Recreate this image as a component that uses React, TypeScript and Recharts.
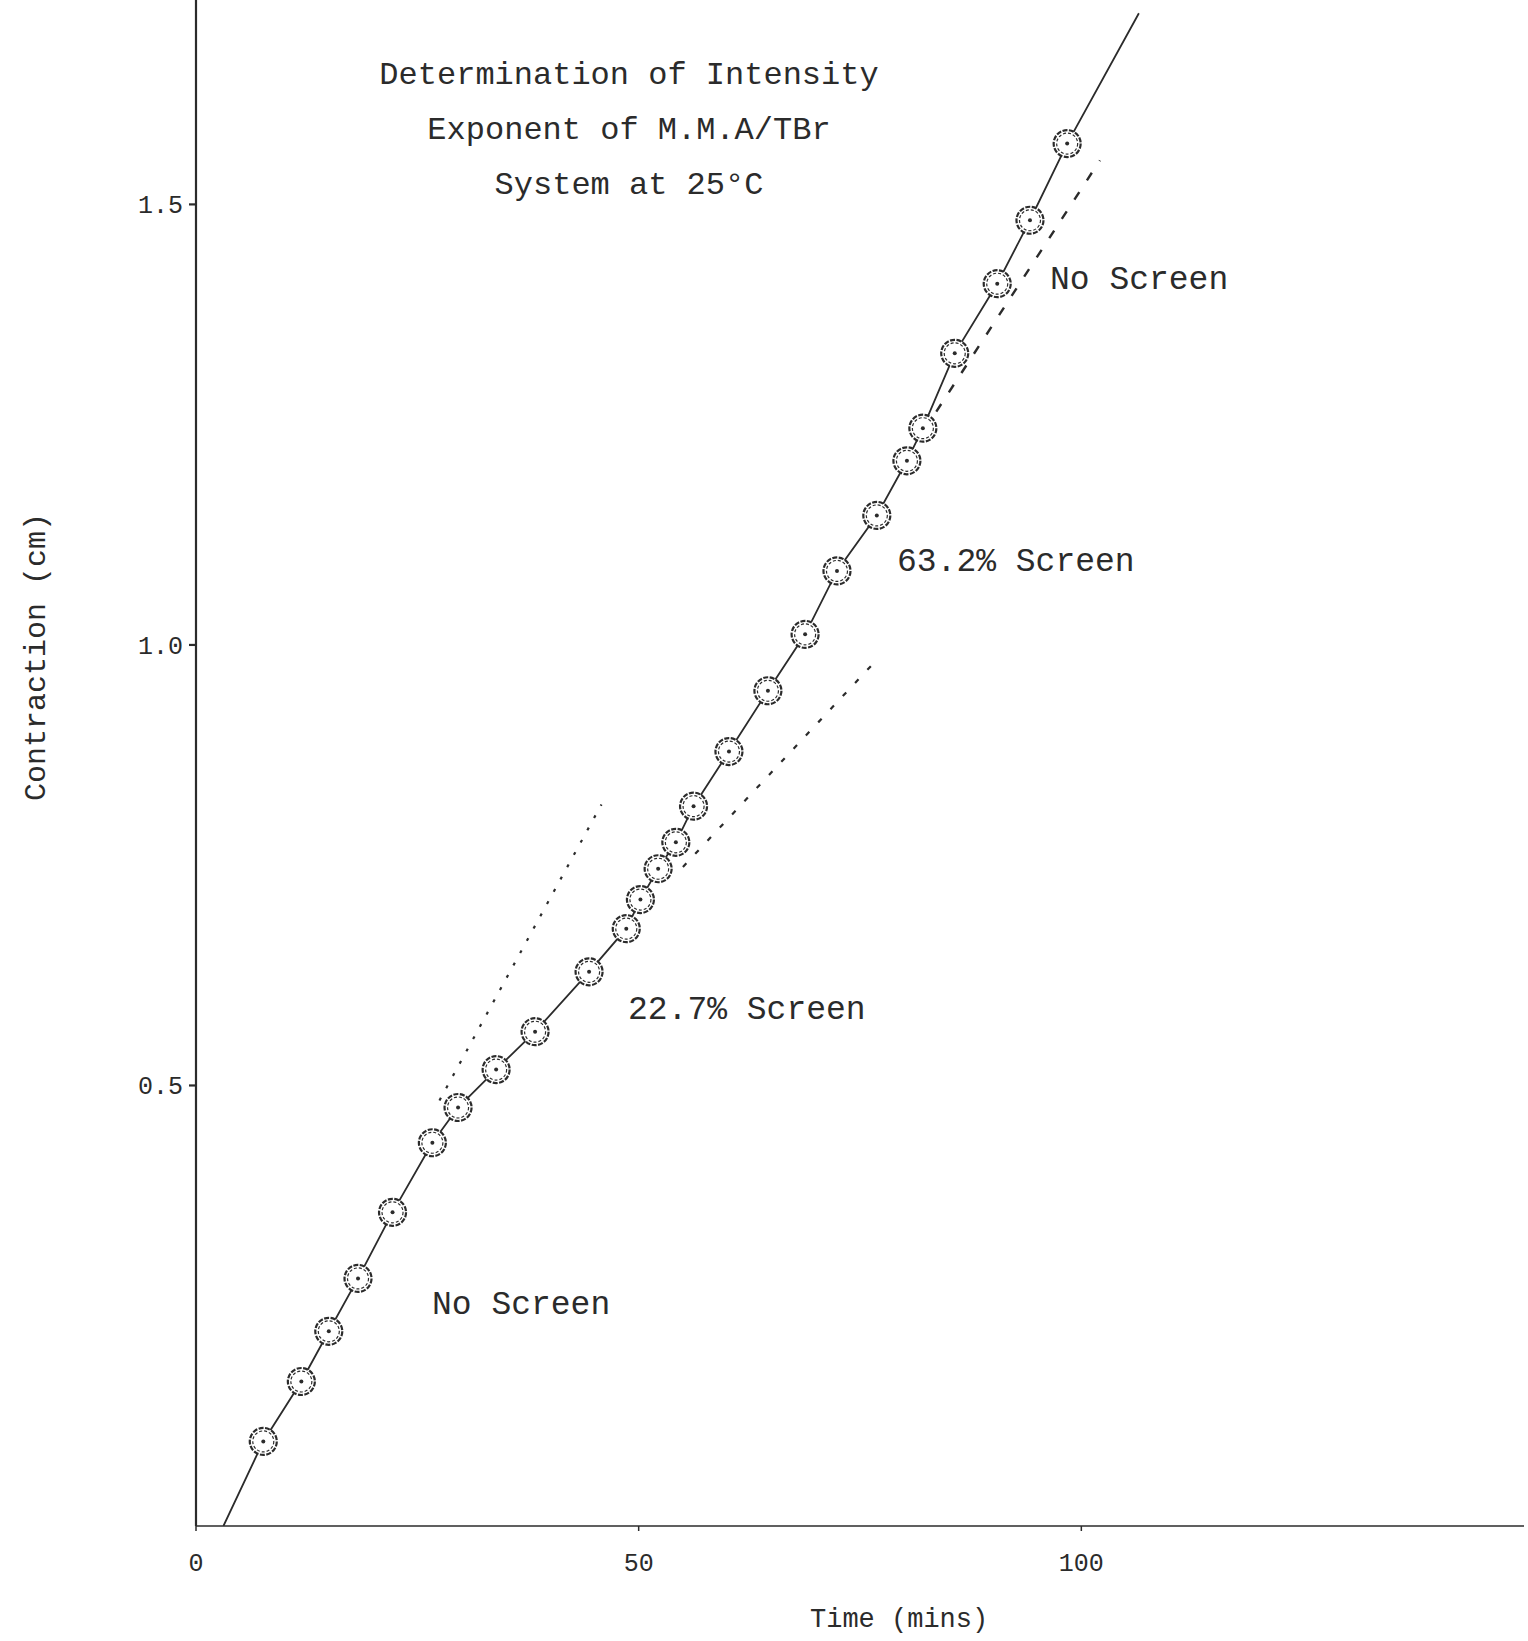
import React from 'react';
import { ComposedChart, Line, Scatter, XAxis, YAxis } from 'recharts';

// measured points (time in mins, contraction in cm)
const times = [7.6, 11.9, 15.0, 18.3, 22.2, 26.7, 29.6, 33.9, 38.3, 44.4, 48.6, 50.2, 52.2, 54.2, 56.2, 60.2, 64.6, 68.8, 72.4, 76.9, 80.3, 82.1, 85.7, 90.5, 94.2, 98.4];
const contraction = [0.096, 0.164, 0.221, 0.281, 0.356, 0.435, 0.475, 0.518, 0.561, 0.629, 0.678, 0.711, 0.746, 0.776, 0.817, 0.879, 0.948, 1.012, 1.084, 1.147, 1.209, 1.246, 1.331, 1.41, 1.482, 1.569];

// drawn line ends
const fitStart = { t: 3.1, c: 0 };
const fitEnd = { t: 106.5, c: 1.717 };

// extrapolated (dashed) lines
const noScreenLowT = [27.5, 45.8];
const noScreenLowC = [0.483, 0.819];
const screen227T = [55.0, 76.6];
const screen227C = [0.748, 0.98];
const screen632T = [82.2, 102.1];
const screen632C = [1.243, 1.55];

const xTicks = [0, 50, 100];
const yTicks = [0.5, 1.0, 1.5];

const points = times.map((t, i) => ({ t, c: contraction[i] }));
const fitLine = [fitStart, ...points, fitEnd];
const toLine = (ts, cs) => ts.map((t, i) => ({ t, c: cs[i] }));

const INK = '#2b2b2b';
const FONT = '"Liberation Mono", "DejaVu Sans Mono", monospace';

const Ring = (props) => {
    const { cx, cy } = props;
    if (cx == null || cy == null) return null;
    return (
        <g>
            <circle cx={cx} cy={cy} r={13.5} fill="#fff" stroke={INK} strokeWidth={2.2} strokeDasharray="5 1.5" />
            <circle cx={cx} cy={cy} r={10.5} fill="none" stroke={INK} strokeWidth={1.2} strokeDasharray="3 2" />
            <circle cx={cx} cy={cy} r={2} fill={INK} />
        </g>
    );
};

const note = (text, left, top, size = 33) => (
    <div style={{ position: 'absolute', left, top, fontFamily: FONT, fontSize: size, color: INK, whiteSpace: 'pre', lineHeight: 1 }}>
        {text}
    </div>
);

export default function App() {
    return (
        <div style={{ position: 'absolute', left: 0, top: 0, width: 1528, height: 1641, background: '#fff' }}>
            <ComposedChart width={1528} height={1641} margin={{ top: 0, right: 4, left: 116, bottom: 55 }}>
                <XAxis
                    type="number"
                    dataKey="t"
                    domain={[0, 150]}
                    ticks={xTicks}
                    allowDataOverflow
                    height={60}
                    tickSize={5}
                    tickMargin={22}
                    stroke={INK}
                    strokeWidth={1.5}
                    tick={{ fontFamily: FONT, fontSize: 25, fill: INK }}
                />
                <YAxis
                    type="number"
                    dataKey="c"
                    domain={[0, 1.732]}
                    ticks={yTicks}
                    allowDataOverflow
                    width={80}
                    tickSize={7}
                    tickMargin={6}
                    stroke={INK}
                    strokeWidth={2.2}
                    tickFormatter={(v) => v.toFixed(1)}
                    tick={{ fontFamily: FONT, fontSize: 25, fill: INK }}
                />
                <Line data={toLine(noScreenLowT, noScreenLowC)} dataKey="c" stroke={INK} strokeWidth={2.2} strokeDasharray="3 11" dot={false} isAnimationActive={false} />
                <Line data={toLine(screen227T, screen227C)} dataKey="c" stroke={INK} strokeWidth={2.2} strokeDasharray="5 13" dot={false} isAnimationActive={false} />
                <Line data={toLine(screen632T, screen632C)} dataKey="c" stroke={INK} strokeWidth={2.4} strokeDasharray="9 14" dot={false} isAnimationActive={false} />
                <Line data={fitLine} dataKey="c" stroke={INK} strokeWidth={1.8} dot={false} isAnimationActive={false} />
                <Scatter data={points} dataKey="c" shape={Ring} isAnimationActive={false} />
            </ComposedChart>

            <div style={{ position: 'absolute', left: 379, top: 48, width: 500, textAlign: 'center', fontFamily: FONT, fontSize: 32, color: INK, lineHeight: '55px' }}>
                <div>Determination of Intensity</div>
                <div>Exponent of M.M.A/TBr</div>
                <div>System at 25°C</div>
            </div>

            {note('No Screen', 1050, 264)}
            {note('63.2% Screen', 897, 546)}
            {note('22.7% Screen', 628, 994)}
            {note('No Screen', 432, 1289)}

            <div style={{ position: 'absolute', left: 810, top: 1605, fontFamily: FONT, fontSize: 27, color: INK }}>Time (mins)</div>
            <div
                style={{
                    position: 'absolute',
                    left: 37,
                    top: 657,
                    transform: 'translate(-50%, -50%) rotate(-90deg)',
                    fontFamily: FONT,
                    fontSize: 30,
                    color: INK,
                    whiteSpace: 'pre',
                }}
            >
                Contraction (cm)
            </div>
        </div>
    );
}
